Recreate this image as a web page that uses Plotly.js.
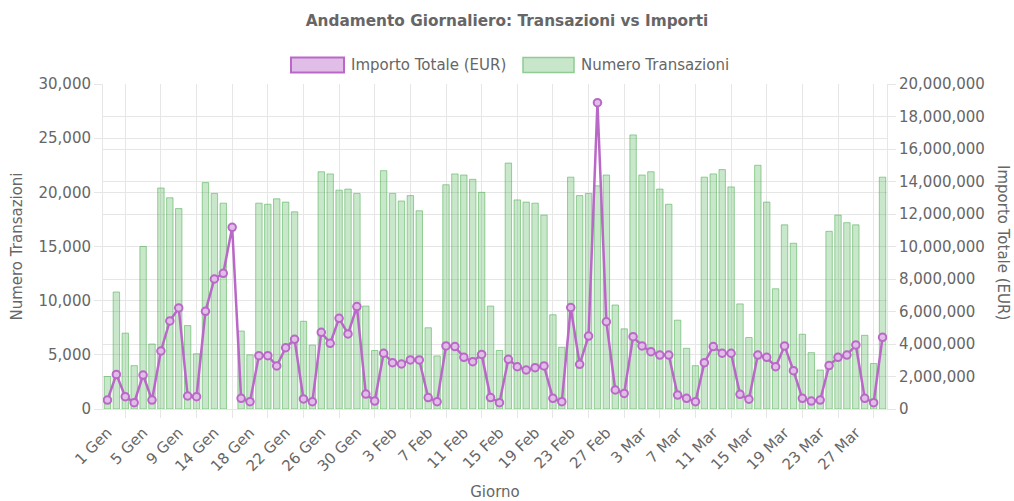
<!DOCTYPE html>
<html>
<head>
<meta charset="utf-8">
<script src="https://cdn.plot.ly/plotly-3.0.1.min.js"></script>
<style>
html, body { margin: 0; padding: 0; background: #ffffff; }
#chart { width: 1014px; height: 501px; }
</style>
</head>
<body>
<div id="chart"></div>
<script>
// ---- Data ----
const days = [
  "1 Gen","2 Gen","3 Gen","4 Gen","5 Gen","6 Gen","7 Gen","8 Gen","9 Gen","10 Gen","11 Gen","12 Gen",
  "14 Gen","15 Gen","16 Gen","17 Gen","18 Gen","19 Gen","20 Gen","21 Gen","22 Gen","23 Gen","24 Gen","25 Gen",
  "26 Gen","27 Gen","28 Gen","29 Gen","30 Gen","31 Gen",
  "1 Feb","2 Feb","3 Feb","4 Feb","5 Feb","6 Feb","7 Feb","8 Feb","9 Feb","10 Feb","11 Feb","12 Feb","13 Feb","14 Feb",
  "15 Feb","16 Feb","17 Feb","18 Feb","19 Feb","20 Feb","21 Feb","22 Feb","23 Feb","24 Feb","25 Feb","26 Feb","27 Feb","28 Feb",
  "1 Mar","2 Mar","3 Mar","4 Mar","5 Mar","6 Mar","7 Mar","8 Mar","9 Mar","10 Mar","11 Mar","12 Mar","13 Mar","14 Mar","15 Mar",
  "16 Mar","17 Mar","18 Mar","19 Mar","20 Mar","21 Mar","22 Mar","23 Mar","24 Mar","25 Mar","26 Mar","27 Mar","28 Mar","29 Mar","30 Mar"
];

const tickLabels = [
  "1 Gen","5 Gen","9 Gen","14 Gen","18 Gen","22 Gen","26 Gen","30 Gen",
  "3 Feb","7 Feb","11 Feb","15 Feb","19 Feb","23 Feb","27 Feb",
  "3 Mar","7 Mar","11 Mar","15 Mar","19 Mar","23 Mar","27 Mar"
];

const numeroTransazioni = [
  3000,10800,7000,4000,15000,6000,20400,19500,18500,7700,5100,20900,
  19900,19000,null,7200,5000,19000,18900,19400,19100,18200,8100,5900,
  21900,21700,20200,20300,19900,9500,
  5400,22000,19900,19200,19700,18300,7500,4900,20700,21700,21600,21200,20000,9500,
  5400,22700,19300,19100,19000,17900,8700,5700,21400,19700,19900,20600,21600,9600,
  7400,25300,21600,21900,20300,18900,8200,5600,4000,21400,21700,22100,20500,9700,6600,
  22500,19100,11100,17000,15300,6900,5200,3600,16400,17900,17200,17000,6800,4200,21400
];

const importoTotale = [
  550000,2130000,760000,390000,2090000,550000,3570000,5420000,6220000,800000,760000,6010000,
  8000000,8350000,11180000,660000,450000,3280000,3280000,2650000,3770000,4290000,620000,450000,
  4720000,4040000,5580000,4620000,6300000,920000,
  490000,3430000,2850000,2770000,3020000,3020000,700000,450000,3880000,3840000,3180000,2910000,3360000,700000,
  390000,3060000,2600000,2400000,2540000,2650000,660000,450000,6240000,2750000,4490000,18850000,5370000,1170000,
  960000,4450000,3880000,3530000,3320000,3320000,860000,660000,450000,2850000,3840000,3430000,3430000,900000,600000,
  3320000,3180000,2600000,3880000,2360000,660000,490000,550000,2670000,3180000,3320000,3940000,660000,390000,4410000
];

const seriesNames = ["Importo Totale (EUR)", "Numero Transazioni"];

// ---- Styling ----
const FONT = "DejaVu Sans, sans-serif";
const GRID = "#e6e6e6";
const TXT = "#666666";
const PURPLE = "#ba68c8";
const PURPLE_FILL = "#e1bee7";
const GREEN_FILL = "rgba(76,175,80,0.3)";
const GREEN_LINE = "rgba(76,175,80,0.55)";

// label positions = categories carrying a tick label; grid positions sit halfway between them
const labelVals = days.filter((d, i) => i % 4 === 0);
const gridVals = days.filter((d, i) => i % 4 === 2);
const xRange = [-0.5, days.length - 0.5];

const barTrace = {
  type: "bar",
  name: seriesNames[1],
  x: days,
  y: numeroTransazioni,
  xaxis: "x",
  yaxis: "y",
  marker: { color: GREEN_FILL, line: { color: GREEN_LINE, width: 1 } },
  showlegend: false,
  hovertemplate: "%{x}<br>%{y:,}<extra>" + seriesNames[1] + "</extra>"
};

const lineTrace = {
  type: "scatter",
  mode: "lines+markers",
  name: seriesNames[0],
  x: days,
  y: importoTotale,
  xaxis: "x2",
  yaxis: "y2",
  line: { color: PURPLE, width: 2.5 },
  marker: { size: 7.5, color: PURPLE_FILL, line: { color: PURPLE, width: 2 } },
  showlegend: false,
  hovertemplate: "%{x}<br>%{y:,}<extra>" + seriesNames[0] + "</extra>"
};

// plot area in pixels: x 103..887, y 84..409
const L = 103, R = 887, T = 84, B = 409;
const px = v => (v - L) / (R - L);
const py = v => (B - v) / (B - T);

const layout = {
  width: 1014,
  height: 501,
  margin: { l: L, r: 1014 - R, t: T, b: 501 - B },
  paper_bgcolor: "#ffffff",
  plot_bgcolor: "#ffffff",
  font: { family: FONT, color: TXT, size: 15 },
  title: {
    text: "Andamento Giornaliero: Transazioni vs Importi",
    font: { family: FONT, size: 15.3, color: TXT, weight: "bold" },
    x: 0.5, xref: "container", xanchor: "center",
    y: 1 - 21 / 501, yref: "container", yanchor: "middle"
  },
  bargap: 0.28,
  showlegend: false,
  xaxis: {
    type: "category",
    categoryorder: "array",
    categoryarray: days,
    range: xRange,
    autorange: false,
    tickmode: "array",
    tickvals: gridVals,
    showticklabels: false,
    showgrid: true,
    gridcolor: GRID,
    ticks: "outside",
    ticklen: 8,
    tickcolor: GRID,
    showline: true,
    linecolor: GRID,
    zeroline: false
  },
  xaxis2: {
    type: "category",
    overlaying: "x",
    matches: "x",
    anchor: "y2",
    side: "bottom",
    categoryorder: "array",
    categoryarray: days,
    range: xRange,
    autorange: false,
    tickmode: "array",
    tickvals: labelVals,
    ticktext: tickLabels,
    tickangle: -45,
    ticks: "outside",
    ticklen: 8,
    tickcolor: "rgba(0,0,0,0)",
    tickfont: { family: FONT, size: 15, color: TXT },
    showgrid: false,
    showline: false,
    zeroline: false,
    title: { text: "Giorno", font: { family: FONT, size: 15, color: TXT }, standoff: 16 }
  },
  yaxis: {
    range: [0, 30000],
    dtick: 5000,
    tickformat: ",d",
    showgrid: true,
    gridcolor: GRID,
    ticks: "outside",
    ticklen: 8,
    tickcolor: GRID,
    showline: true,
    linecolor: GRID,
    zeroline: false,
    tickfont: { family: FONT, size: 15, color: TXT },
    title: { text: "Numero Transazioni", font: { family: FONT, size: 15, color: TXT }, standoff: 12 }
  },
  yaxis2: {
    overlaying: "y",
    side: "right",
    anchor: "x2",
    range: [0, 20000000],
    dtick: 2000000,
    tickformat: ",d",
    showgrid: true,
    gridcolor: GRID,
    ticks: "outside",
    ticklen: 8,
    tickcolor: GRID,
    showline: true,
    linecolor: GRID,
    zeroline: false,
    tickfont: { family: FONT, size: 15, color: TXT }
  },
  shapes: [
    { type: "rect", xref: "paper", yref: "paper",
      x0: px(291), x1: px(344), y0: py(72.5), y1: py(57.5),
      fillcolor: PURPLE_FILL, line: { color: PURPLE, width: 2 } },
    { type: "rect", xref: "paper", yref: "paper",
      x0: px(523), x1: px(574), y0: py(72.5), y1: py(57.5),
      fillcolor: "#c8e6c9", line: { color: "#8fcb92", width: 1.5 } }
  ],
  annotations: [
    { xref: "paper", yref: "paper", x: px(349), y: py(65), xanchor: "left", yanchor: "middle",
      text: seriesNames[0], showarrow: false, font: { family: FONT, size: 15, color: TXT } },
    { xref: "paper", yref: "paper", x: px(579), y: py(65), xanchor: "left", yanchor: "middle",
      text: seriesNames[1], showarrow: false, font: { family: FONT, size: 15, color: TXT } },
    { xref: "paper", yref: "paper", x: px(1003), y: py(242), xanchor: "center", yanchor: "middle",
      text: "Importo Totale (EUR)", textangle: 90, showarrow: false,
      font: { family: FONT, size: 15, color: TXT } }
  ]
};

Plotly.newPlot("chart", [barTrace, lineTrace], layout, { displayModeBar: false, responsive: false });
</script>
</body>
</html>
